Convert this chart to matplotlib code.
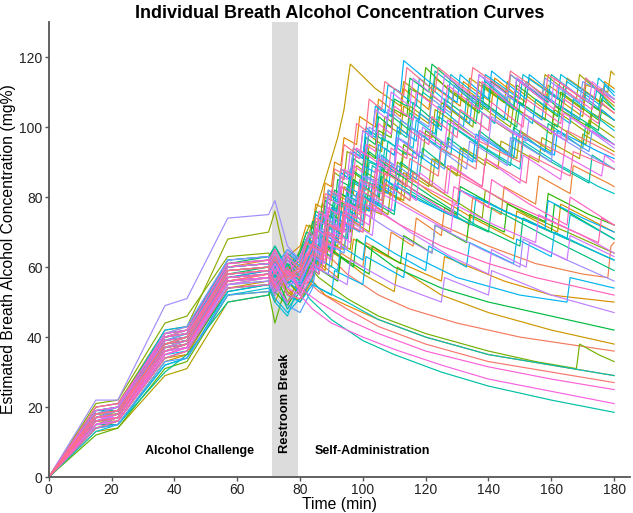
import numpy as np
import matplotlib
matplotlib.use("Agg")
import matplotlib.pyplot as plt

plt.rcParams['font.family'] = ['Liberation Sans', 'DejaVu Sans']

# times (min) of the alcohol challenge / restroom break knots
challenge_times = [0, 15, 22, 37, 44, 57, 70, 72, 76, 80]

# BrAC (mg%) per subject at challenge_times
challenge_bac = [
    [0, 17, 18, 38, 39, 58, 59, 62, 55, 58],
    [0, 16, 17, 36, 38, 57, 58, 54, 60, 56],
    [0, 18, 19, 40, 41, 60, 61, 58, 64, 60],
    [0, 20, 21, 41, 43, 60, 62, 58, 54, 50],
    [0, 15, 16, 35, 37, 55, 57, 60, 52, 55],
    [0, 19, 20, 41, 42, 61, 62, 57, 63, 66],
    [0, 16, 18, 37, 38, 56, 58, 63, 56, 52],
    [0, 16, 16, 34, 35, 54, 56, 52, 58, 62],
    [0, 14, 15, 33, 35, 54, 55, 50, 58, 54],
    [0, 17, 19, 39, 40, 59, 60, 64, 57, 61],
    [0, 17, 18, 38, 40, 57, 59, 55, 60, 57],
    [0, 13, 14, 29, 31, 50, 52, 55, 50, 57],
    [0, 18, 18, 38, 40, 58, 59, 55, 61, 57],
    [0, 15, 17, 36, 37, 56, 57, 61, 53, 50],
    [0, 20, 21, 42, 43, 68, 70, 76, 60, 58],
    [0, 21, 22, 44, 46, 63, 64, 61, 57, 65],
    [0, 17, 18, 37, 39, 57, 58, 52, 59, 63],
    [0, 12, 14, 31, 33, 52, 53, 44, 56, 52],
    [0, 16, 17, 38, 39, 60, 61, 65, 58, 55],
    [0, 17, 19, 36, 38, 56, 57, 53, 49, 55],
    [0, 18, 20, 40, 41, 59, 60, 57, 62, 59],
    [0, 14, 16, 34, 36, 53, 55, 58, 50, 54],
    [0, 17, 18, 39, 40, 58, 60, 55, 63, 60],
    [0, 18, 19, 39, 41, 61, 63, 66, 60, 64],
    [0, 19, 19, 40, 42, 62, 63, 60, 57, 64],
    [0, 16, 17, 36, 37, 55, 56, 53, 60, 57],
    [0, 15, 15, 30, 35, 50, 52, 56, 48, 53],
    [0, 15, 17, 37, 39, 58, 59, 56, 62, 58],
    [0, 18, 19, 41, 42, 61, 62, 66, 59, 56],
    [0, 17, 18, 37, 38, 57, 58, 54, 61, 58],
    [0, 16, 18, 38, 40, 59, 60, 62, 55, 59],
    [0, 19, 20, 40, 41, 60, 61, 57, 63, 60],
    [0, 13, 15, 32, 34, 52, 54, 50, 46, 56],
    [0, 17, 19, 39, 40, 58, 59, 63, 57, 54],
    [0, 18, 19, 40, 41, 60, 61, 57, 64, 61],
    [0, 14, 15, 32, 34, 53, 55, 51, 47, 51],
    [0, 15, 16, 35, 36, 54, 55, 59, 52, 50],
    [0, 19, 20, 42, 43, 62, 63, 60, 65, 62],
    [0, 16, 17, 37, 38, 56, 57, 53, 59, 55],
    [0, 16, 18, 38, 39, 57, 59, 62, 56, 53],
    [0, 17, 18, 38, 39, 57, 58, 62, 54, 58],
    [0, 14, 15, 33, 34, 52, 53, 56, 49, 47],
    [0, 18, 20, 39, 41, 60, 61, 58, 63, 60],
    [0, 18, 20, 41, 43, 62, 63, 59, 65, 61],
    [0, 22, 22, 49, 51, 74, 75, 79, 66, 62],
    [0, 17, 19, 40, 41, 59, 60, 64, 57, 55],
    [0, 15, 16, 34, 36, 55, 56, 52, 58, 54],
    [0, 17, 18, 36, 37, 55, 57, 61, 55, 56],
    [0, 18, 19, 38, 40, 58, 59, 63, 56, 60],
    [0, 16, 18, 37, 39, 58, 59, 55, 62, 58],
    [0, 17, 17, 36, 37, 56, 57, 61, 54, 52],
    [0, 15, 16, 35, 37, 57, 58, 55, 50, 54],
    [0, 19, 20, 41, 42, 61, 62, 58, 64, 52],
    [0, 15, 17, 35, 37, 56, 57, 53, 59, 54],
    [0, 17, 18, 39, 40, 60, 61, 65, 58, 57],
    [0, 20, 21, 40, 42, 61, 62, 65, 58, 63],
    [0, 16, 17, 36, 38, 57, 58, 55, 60, 53],
    [0, 18, 19, 40, 41, 59, 60, 56, 63, 59],
    [0, 14, 16, 34, 36, 54, 55, 59, 52, 51],
    [0, 16, 17, 37, 38, 56, 58, 54, 59, 57],
    [0, 17, 18, 38, 39, 58, 59, 62, 57, 60],
    [0, 18, 19, 38, 40, 59, 60, 63, 56, 59],
]

# self-administration knots per subject: t, BrAC, t, BrAC, ...
selfadmin = [
    [86, 53, 95, 48, 105, 43, 120, 38, 140, 33, 160, 30, 180, 27],
    [82, 61, 85, 59, 86, 66, 95, 58, 105, 52, 115, 48, 130, 44, 150, 40, 180, 36],
    [83, 68, 86, 66, 87, 74, 92, 72, 93, 80, 99, 77, 100, 85, 110, 80, 125, 72, 140, 66, 155, 61, 170, 58, 178, 57, 179, 66, 180, 67],
    [84, 56, 85, 62, 92, 57, 93, 64, 100, 60, 101, 67, 108, 63, 109, 70, 116, 66, 117, 74, 125, 69, 126, 77, 134, 72, 135, 80, 144, 75, 145, 83, 155, 78, 156, 86, 166, 81, 167, 89, 178, 84, 180, 83],
    [84, 56, 88, 52, 95, 49, 105, 45, 120, 40, 140, 35, 160, 32, 180, 29],
    [82, 72, 84, 71, 85, 78, 87, 77, 88, 84, 90, 83, 91, 90, 93, 89, 94, 97, 98, 95, 99, 103, 104, 100, 105, 108, 112, 103, 113, 111, 121, 105, 122, 112, 131, 106, 132, 113, 141, 107, 142, 114, 152, 107, 153, 114, 164, 107, 165, 114, 176, 107, 177, 113, 180, 111],
    [83, 60, 86, 58, 87, 66, 96, 61, 97, 68, 110, 62, 125, 56, 126, 63, 145, 56, 160, 52, 180, 50],
    [84, 70, 88, 68, 89, 76, 95, 72, 96, 80, 103, 76, 104, 84, 112, 79, 113, 87, 122, 81, 135, 74, 148, 68, 149, 76, 162, 70, 163, 78, 180, 70],
    [84, 62, 88, 59, 89, 66, 100, 58, 110, 53, 111, 60, 125, 52, 140, 47, 160, 42, 180, 38],
    [82, 67, 84, 73, 86, 79, 88, 85, 90, 91, 92, 97, 94, 105, 96, 118, 104, 111, 112, 106, 113, 113, 122, 107, 123, 114, 133, 107, 134, 114, 145, 107, 146, 113, 158, 105, 159, 112, 170, 105, 171, 112, 178, 110, 179, 116, 180, 115],
    [84, 64, 85, 71, 89, 69, 90, 77, 93, 75, 94, 83, 97, 81, 98, 89, 101, 87, 102, 95, 106, 93, 107, 101, 112, 98, 113, 106, 121, 101, 122, 109, 133, 102, 134, 110, 146, 102, 147, 109, 158, 102, 159, 110, 170, 103, 171, 110, 180, 104],
    [84, 62, 88, 60, 89, 67, 94, 65, 95, 72, 100, 70, 101, 77, 106, 75, 107, 82, 113, 79, 114, 87, 121, 83, 122, 91, 131, 86, 132, 94, 143, 88, 144, 96, 156, 90, 157, 97, 169, 91, 170, 98, 180, 93],
    [83, 63, 87, 61, 88, 68, 92, 66, 93, 73, 97, 71, 98, 78, 102, 76, 103, 83, 107, 81, 108, 88, 112, 86, 113, 93, 117, 91, 118, 99, 122, 97, 123, 105, 128, 102, 129, 110, 136, 105, 137, 113, 146, 107, 147, 115, 157, 108, 158, 115, 168, 108, 169, 115, 180, 106],
    [84, 57, 85, 63, 90, 60, 91, 68, 96, 65, 97, 73, 102, 70, 103, 78, 108, 75, 109, 83, 115, 79, 116, 87, 122, 83, 123, 91, 130, 86, 131, 94, 139, 89, 140, 97, 149, 91, 150, 99, 160, 93, 161, 101, 171, 95, 172, 102, 180, 97],
    [82, 66, 84, 65, 85, 73, 87, 72, 88, 80, 90, 79, 91, 87, 94, 85, 95, 93, 99, 91, 100, 99, 106, 95, 107, 103, 114, 98, 115, 106, 124, 100, 125, 107, 135, 100, 136, 107, 147, 100, 148, 106, 160, 98, 161, 105, 172, 98, 173, 104, 180, 100],
    [83, 72, 86, 70, 87, 78, 92, 75, 93, 83, 100, 79, 101, 87, 110, 82, 111, 90, 124, 82, 138, 74, 139, 82, 152, 75, 165, 70, 180, 64],
    [86, 57, 95, 51, 105, 46, 120, 41, 140, 36, 155, 33, 168, 31, 169, 38, 175, 35, 180, 33],
    [83, 60, 86, 58, 87, 66, 91, 64, 92, 72, 96, 70, 97, 78, 101, 76, 102, 84, 106, 82, 107, 90, 112, 87, 113, 95, 119, 91, 120, 99, 127, 94, 128, 102, 137, 96, 138, 104, 148, 98, 149, 105, 160, 99, 161, 106, 172, 100, 173, 106, 180, 102],
    [82, 62, 84, 61, 85, 69, 88, 67, 89, 75, 92, 73, 93, 81, 96, 79, 97, 87, 100, 85, 101, 93, 104, 91, 105, 99, 109, 97, 110, 105, 114, 103, 115, 111, 119, 109, 120, 117, 128, 110, 137, 104, 138, 112, 148, 105, 149, 112, 162, 103, 163, 110, 175, 102, 176, 108, 180, 105],
    [85, 60, 92, 56, 93, 63, 102, 58, 103, 66, 112, 61, 113, 69, 122, 64, 123, 72, 133, 67, 134, 75, 145, 70, 146, 78, 158, 73, 159, 81, 172, 75, 180, 72],
    [83, 67, 86, 65, 87, 73, 91, 71, 92, 79, 96, 77, 97, 85, 105, 80, 106, 88, 118, 81, 130, 75, 131, 83, 145, 76, 160, 70, 161, 78, 180, 68],
    [83, 62, 86, 60, 87, 67, 97, 60, 98, 68, 110, 60, 125, 54, 140, 50, 155, 47, 170, 44, 180, 42],
    [83, 67, 84, 73, 87, 71, 88, 79, 91, 77, 92, 85, 96, 83, 97, 91, 100, 89, 101, 97, 104, 95, 105, 103, 109, 100, 110, 108, 114, 106, 115, 114, 121, 110, 122, 118, 131, 111, 140, 105, 141, 113, 151, 106, 152, 113, 163, 105, 164, 112, 175, 105, 176, 111, 180, 108],
    [83, 70, 86, 68, 87, 76, 90, 74, 91, 82, 95, 80, 96, 88, 101, 85, 102, 93, 109, 88, 122, 80, 136, 72, 150, 66, 151, 74, 165, 68, 180, 62],
    [82, 70, 84, 69, 85, 76, 88, 74, 89, 82, 92, 80, 93, 88, 96, 86, 97, 94, 101, 91, 102, 99, 107, 96, 108, 104, 115, 99, 116, 107, 125, 100, 126, 108, 136, 101, 137, 108, 149, 100, 150, 107, 162, 100, 163, 106, 175, 99, 176, 105, 180, 102],
    [84, 65, 85, 71, 90, 69, 91, 77, 98, 73, 99, 81, 110, 75, 111, 83, 125, 76, 140, 70, 141, 77, 160, 68, 180, 59],
    [84, 60, 85, 66, 90, 63, 91, 71, 95, 68, 96, 76, 100, 73, 101, 81, 105, 78, 106, 86, 111, 82, 112, 90, 118, 86, 119, 94, 126, 89, 127, 97, 136, 91, 137, 99, 147, 92, 148, 100, 158, 93, 159, 101, 170, 94, 171, 101, 180, 95],
    [84, 66, 87, 64, 88, 72, 91, 70, 92, 78, 96, 76, 97, 84, 101, 82, 102, 90, 107, 88, 108, 96, 114, 92, 115, 100, 123, 95, 124, 103, 135, 96, 147, 89, 148, 97, 160, 90, 172, 84, 173, 92, 180, 88],
    [83, 51, 90, 45, 100, 39, 110, 35, 125, 30, 140, 26, 160, 22, 180, 18.5],
    [83, 64, 86, 62, 87, 69, 90, 67, 91, 74, 94, 72, 95, 79, 98, 77, 99, 84, 102, 82, 103, 89, 106, 87, 107, 94, 110, 92, 111, 99, 114, 97, 115, 104, 118, 102, 119, 110, 122, 108, 123, 116, 130, 111, 138, 105, 139, 113, 148, 106, 149, 114, 159, 107, 160, 115, 170, 108, 171, 114, 180, 105],
    [86, 54, 95, 50, 105, 45, 120, 40, 140, 35, 160, 32, 180, 29],
    [83, 67, 86, 65, 87, 73, 90, 71, 91, 79, 95, 77, 96, 85, 100, 83, 101, 91, 105, 89, 106, 97, 111, 94, 112, 102, 120, 97, 128, 92, 129, 100, 139, 94, 150, 88, 151, 96, 163, 89, 175, 83, 180, 81],
    [83, 64, 86, 62, 87, 70, 92, 68, 93, 76, 100, 72, 101, 80, 110, 76, 111, 84, 122, 78, 135, 72, 136, 80, 150, 74, 165, 68, 166, 75, 180, 68],
    [83, 61, 85, 60, 86, 68, 90, 66, 91, 74, 95, 72, 96, 80, 100, 78, 101, 86, 105, 84, 106, 92, 110, 89, 111, 97, 116, 94, 117, 102, 123, 98, 124, 106, 132, 100, 133, 108, 142, 101, 143, 109, 154, 101, 155, 108, 166, 101, 167, 108, 180, 99],
    [82, 68, 85, 66, 86, 74, 88, 73, 89, 81, 92, 79, 93, 87, 96, 85, 97, 93, 100, 91, 101, 99, 104, 97, 105, 106, 109, 103, 110, 111, 117, 106, 118, 114, 127, 107, 128, 115, 138, 108, 139, 115, 150, 108, 151, 115, 162, 108, 163, 115, 174, 108, 175, 114, 180, 110],
    [84, 57, 85, 63, 92, 59, 93, 66, 100, 62, 101, 69, 110, 64, 120, 59, 121, 66, 133, 60, 134, 67, 148, 61, 149, 68, 160, 63, 161, 70, 175, 64, 180, 62],
    [84, 55, 90, 52, 91, 59, 100, 55, 101, 63, 113, 57, 114, 64, 130, 57, 150, 52, 165, 50, 166, 57, 180, 54],
    [82, 68, 84, 67, 85, 75, 88, 73, 89, 81, 92, 79, 93, 87, 96, 85, 97, 93, 100, 91, 101, 100, 103, 98, 104, 106, 107, 104, 108, 112, 112, 110, 113, 119, 121, 113, 130, 107, 131, 115, 140, 108, 141, 116, 152, 108, 153, 115, 164, 107, 165, 113, 176, 106, 177, 112, 180, 109],
    [84, 63, 87, 61, 88, 69, 92, 67, 93, 75, 97, 73, 98, 81, 106, 77, 107, 85, 118, 79, 130, 74, 131, 82, 145, 76, 158, 71, 159, 79, 170, 74, 180, 70],
    [84, 61, 86, 59, 87, 67, 91, 65, 92, 73, 96, 71, 97, 79, 102, 76, 103, 84, 108, 81, 109, 89, 115, 85, 116, 93, 124, 88, 125, 96, 135, 90, 136, 98, 148, 91, 149, 98, 161, 92, 162, 99, 175, 93, 180, 91],
    [84, 65, 85, 71, 89, 69, 90, 77, 94, 75, 95, 83, 99, 81, 100, 89, 104, 87, 105, 95, 110, 92, 111, 100, 117, 96, 118, 104, 125, 99, 126, 107, 134, 101, 135, 109, 145, 102, 146, 109, 157, 102, 158, 109, 169, 102, 170, 109, 180, 102],
    [84, 54, 85, 60, 89, 58, 90, 66, 94, 64, 95, 72, 99, 70, 100, 78, 104, 76, 105, 84, 110, 81, 111, 89, 117, 85, 118, 93, 126, 88, 127, 96, 136, 90, 137, 98, 147, 92, 148, 99, 160, 92, 161, 99, 172, 93, 173, 99, 180, 95],
    [83, 66, 86, 64, 87, 71, 90, 69, 91, 76, 95, 74, 96, 81, 100, 79, 101, 86, 105, 84, 106, 91, 110, 89, 111, 97, 115, 95, 116, 103, 121, 100, 122, 108, 128, 104, 129, 112, 136, 107, 137, 115, 146, 108, 147, 115, 157, 108, 158, 114, 169, 107, 170, 113, 180, 108],
    [83, 69, 85, 67, 86, 75, 88, 74, 89, 82, 92, 80, 93, 88, 96, 86, 97, 94, 101, 92, 102, 100, 107, 97, 108, 105, 115, 100, 124, 94, 133, 88, 134, 96, 146, 89, 147, 97, 160, 90, 161, 98, 174, 91, 180, 88],
    [83, 69, 86, 67, 87, 75, 95, 70, 96, 78, 108, 71, 122, 64, 123, 72, 138, 65, 150, 60, 151, 68, 165, 62, 180, 56],
    [83, 62, 86, 60, 87, 68, 90, 66, 91, 74, 94, 72, 95, 80, 99, 78, 100, 86, 104, 84, 105, 92, 110, 89, 111, 97, 118, 92, 119, 100, 128, 94, 129, 102, 140, 95, 141, 103, 152, 96, 153, 103, 165, 96, 166, 103, 180, 94],
    [85, 60, 95, 55, 96, 62, 110, 55, 125, 50, 126, 57, 140, 52, 141, 59, 160, 52, 180, 47],
    [84, 63, 88, 61, 89, 69, 95, 65, 96, 73, 103, 69, 104, 77, 115, 70, 128, 63, 140, 58, 141, 65, 152, 60, 153, 67, 165, 62, 166, 69, 180, 63],
    [82, 67, 85, 65, 86, 73, 88, 72, 89, 80, 92, 78, 93, 86, 95, 85, 96, 93, 99, 91, 100, 99, 103, 97, 104, 105, 108, 102, 109, 110, 115, 106, 116, 114, 125, 107, 126, 115, 136, 108, 137, 115, 148, 108, 149, 114, 160, 107, 161, 114, 172, 107, 173, 113, 180, 108],
    [84, 66, 88, 64, 89, 72, 94, 70, 95, 78, 103, 74, 104, 82, 114, 77, 128, 70, 129, 78, 142, 72, 155, 67, 156, 75, 170, 69, 180, 64],
    [84, 59, 85, 65, 90, 62, 91, 70, 96, 67, 97, 75, 102, 72, 103, 80, 109, 76, 110, 84, 117, 79, 118, 87, 127, 81, 128, 89, 138, 83, 139, 91, 150, 84, 151, 92, 163, 85, 164, 92, 176, 86, 177, 92, 180, 90],
    [84, 60, 86, 58, 87, 66, 90, 64, 91, 72, 94, 70, 95, 78, 99, 76, 100, 84, 104, 82, 105, 90, 110, 87, 111, 95, 117, 91, 118, 99, 126, 94, 127, 102, 137, 96, 138, 104, 150, 97, 151, 104, 163, 97, 164, 104, 176, 97, 180, 95],
    [84, 48, 90, 44, 100, 40, 110, 36.5, 125, 32, 140, 28, 160, 24.5, 180, 21],
    [86, 50, 95, 45, 105, 41, 120, 36, 140, 31.5, 160, 28, 180, 25],
    [82, 64, 84, 63, 85, 71, 88, 69, 89, 77, 92, 75, 93, 83, 96, 81, 97, 89, 100, 87, 101, 95, 104, 93, 105, 101, 109, 98, 110, 106, 116, 102, 117, 110, 126, 104, 127, 112, 137, 105, 138, 113, 149, 105, 150, 113, 161, 105, 162, 112, 173, 105, 174, 111, 180, 107],
    [83, 70, 85, 68, 86, 76, 89, 74, 90, 82, 93, 80, 94, 88, 97, 86, 98, 94, 103, 91, 116, 82, 128, 75, 129, 83, 140, 77, 141, 85, 153, 78, 165, 72, 166, 80, 180, 72],
    [84, 61, 87, 59, 88, 67, 93, 65, 94, 73, 100, 70, 101, 78, 112, 72, 125, 66, 140, 61, 155, 57, 170, 54, 180, 52],
    [84, 67, 87, 65, 88, 73, 92, 71, 93, 79, 98, 77, 99, 85, 104, 83, 105, 91, 115, 85, 130, 78, 131, 86, 145, 79, 160, 73, 175, 67, 176, 74, 180, 72],
    [84, 58, 85, 64, 88, 62, 89, 70, 93, 68, 94, 76, 98, 74, 99, 82, 103, 80, 104, 88, 108, 86, 109, 94, 114, 91, 115, 99, 121, 95, 122, 103, 130, 97, 131, 105, 140, 99, 141, 107, 151, 100, 152, 108, 163, 101, 164, 108, 175, 101, 176, 107, 180, 104],
    [84, 64, 87, 62, 88, 70, 93, 67, 94, 75, 99, 72, 100, 80, 106, 76, 107, 84, 115, 79, 116, 87, 126, 81, 127, 89, 138, 83, 139, 91, 152, 84, 153, 92, 166, 86, 167, 93, 180, 88],
    [82, 67, 84, 66, 85, 74, 87, 73, 88, 81, 90, 80, 91, 88, 93, 87, 94, 95, 97, 93, 98, 101, 101, 99, 102, 108, 106, 105, 107, 113, 113, 109, 114, 117, 123, 110, 124, 117, 134, 110, 135, 117, 146, 110, 147, 116, 158, 109, 159, 115, 170, 108, 171, 114, 180, 107],
    [84, 66, 88, 64, 89, 72, 93, 70, 94, 78, 99, 75, 100, 83, 106, 79, 107, 87, 114, 83, 115, 91, 124, 86, 125, 94, 136, 88, 137, 96, 150, 90, 151, 98, 164, 92, 165, 99, 178, 93, 180, 92],
]


def hue_colors(n, l=65.0, c=100.0):
    # ggplot2 default discrete palette (HCL hues)
    hues = np.linspace(15, 375, n + 1)[:n]
    xn, yn, zn = 95.047, 100.0, 108.883
    un = 4 * xn / (xn + 15 * yn + 3 * zn)
    vn = 9 * yn / (xn + 15 * yn + 3 * zn)
    m = np.array([[3.2406, -1.5372, -0.4986],
                  [-0.9689, 1.8758, 0.0415],
                  [0.0557, -0.2040, 1.0570]])
    out = []
    for h in hues:
        u = c * np.cos(np.radians(h))
        v = c * np.sin(np.radians(h))
        y = yn * ((l + 16) / 116) ** 3
        up = u / (13 * l) + un
        vp = v / (13 * l) + vn
        x = y * 9 * up / (4 * vp)
        z = y * (12 - 3 * up - 20 * vp) / (4 * vp)
        rgb = m @ (np.array([x, y, z]) / 100)
        rgb = np.where(rgb <= 0.0031308, 12.92 * rgb, 1.055 * np.clip(rgb, 0, None) ** (1 / 2.4) - 0.055)
        out.append(tuple(np.clip(rgb, 0, 1)))
    return out


colors = hue_colors(len(challenge_bac))

fig = plt.figure(figsize=(6.33, 5.13), dpi=100)
ax = fig.add_axes([0.077, 0.070, 0.918, 0.887])

ax.axvspan(71, 79.5, color="#dcdcdc", lw=0, zorder=0)

for i, (ch, sa) in enumerate(zip(challenge_bac, selfadmin)):
    t = list(challenge_times) + sa[0::2]
    v = list(ch) + sa[1::2]
    ax.plot(t, v, color=colors[i], lw=0.85, zorder=2)

ax.set_xlim(0, 185)
ax.set_ylim(0, 130)
ax.set_xticks([0, 20, 40, 60, 80, 100, 120, 140, 160, 180])
ax.set_yticks([0, 20, 40, 60, 80, 100, 120])

for s in ["top", "right"]:
    ax.spines[s].set_visible(False)
for s in ["left", "bottom"]:
    ax.spines[s].set_color("#555555")
    ax.spines[s].set_linewidth(1.3)
ax.tick_params(colors="#555555", labelcolor="#222222", labelsize=10, length=3, width=1, pad=1.5)

ax.set_xlabel("Time (min)", fontsize=11.3, labelpad=0)
ax.set_ylabel("Estimated Breath Alcohol Concentration (mg%)", fontsize=11.3, labelpad=2)
ax.set_title("Individual Breath Alcohol Concentration Curves", fontsize=13, fontweight="bold", pad=3)

ax.text(48, 7.5, "Alcohol Challenge", fontsize=9, fontweight="bold", ha="center", va="center")
ax.text(103, 7.5, "Self-Administration", fontsize=9, fontweight="bold", ha="center", va="center")
ax.text(75.3, 21, "Restroom Break", fontsize=9.3, fontweight="bold", ha="center", va="center", rotation=90)

fig.savefig("out.png", dpi=100)
